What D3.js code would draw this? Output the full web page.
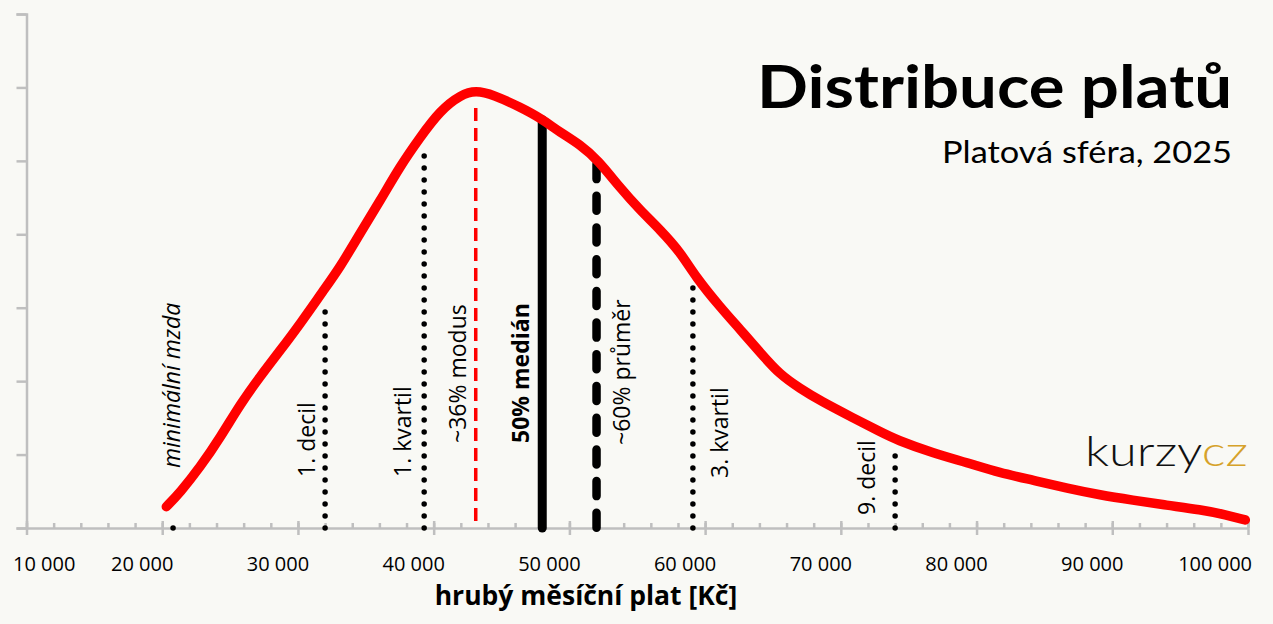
<!DOCTYPE html>
<html lang="cs">
<head>
    <meta charset="UTF-8">
    <title>Distribuce platů</title>
    <script src="https://d3js.org/d3.v7.min.js"></script>
    <style>
        body { margin: 0; background: #f9f9f5; }
        svg { display: block; }
        .axis path, .axis line { stroke: #bfbfbf; stroke-width: 2.5; }
        .tick-label { font: 20px "Open Sans", sans-serif; fill: #000; }
        .marker-label { font: 23px "Open Sans", sans-serif; fill: #000; }
    </style>
</head>
<body>
<svg id="chart"></svg>
<script>
// salary distribution curve
const salary = [20300, 21300, 22800, 24300, 25800, 27200, 28700, 30200, 31900, 33100,
    34600, 36100, 37500, 39000, 40500, 42000, 43100, 44400, 46400, 47900,
    49300, 50800, 52100, 53700, 55200, 56700, 58200, 59300, 61100, 62600,
    64100, 65500, 67000, 68500, 70900, 72900, 74100, 76800, 79300, 81700,
    84200, 86700, 89100, 91500, 94000, 96500, 98400, 99800];
const density = [0.29, 0.48, 0.83, 1.24, 1.70, 2.06, 2.42, 2.79, 3.24, 3.55,
    4.02, 4.47, 4.92, 5.32, 5.69, 5.90, 5.96, 5.90, 5.73, 5.58,
    5.39, 5.22, 5.01, 4.64, 4.33, 4.06, 3.75, 3.42, 3.01, 2.70,
    2.38, 2.09, 1.90, 1.73, 1.50, 1.31, 1.20, 1.02, 0.89, 0.75,
    0.65, 0.54, 0.45, 0.38, 0.31, 0.25, 0.18, 0.11];

// vertical markers
const markerLabels = ["minimální mzda", "1. decil", "1. kvartil", "~36% modus",
    "50% medián", "~60% průměr", "3. kvartil", "9. decil"];
const markerSalary = [20800, 32000, 39300, 43100, 48000, 52000, 59100, 74000];
const markerTop = [0.16, 3.08, 5.19, 5.72, 5.56, 5.01, 3.40, 1.13];

const xTicks = [10000, 20000, 30000, 40000, 50000, 60000, 70000, 80000, 90000, 100000];
const xMinorTicks = d3.range(10000, 100001, 2000);
const yTicks = [0, 1, 2, 3, 4, 5, 6, 7];

const width = 1273, height = 624;
const svg = d3.select("#chart").attr("width", width).attr("height", height);

const x = d3.scaleLinear().domain([10000, 100000]).range([26.5, 1248]);
const y = d3.scaleLinear().domain([0, 7]).range([528, 14]);

// marker styles, by marker index
const styles = [
    { kind: "dot", dx: 7, ly: 468, italic: true },
    { kind: "dot", dx: -10, ly: 477 },
    { kind: "dot", dx: -13, ly: 477 },
    { kind: "modus", dx: -10, ly: 443 },
    { kind: "solid", dx: -13, ly: 443, bold: true },
    { kind: "long", dx: 33, ly: 445 },
    { kind: "dot", dx: 35, ly: 478 },
    { kind: "dot", dx: -20, ly: 515 }
];

// y axis (no labels)
svg.append("g")
    .attr("class", "axis")
    .attr("transform", `translate(${x(10000)},0)`)
    .call(d3.axisLeft(y).tickValues(yTicks).tickSize(10).tickSizeOuter(10).tickFormat(""));

// minor x ticks, pointing up
svg.append("g")
    .attr("class", "axis")
    .attr("transform", `translate(0,${y(0)})`)
    .call(d3.axisBottom(x).tickValues(xMinorTicks).tickSize(-5).tickSizeOuter(0).tickFormat(""))
    .call(g => g.select(".domain").remove());

// major x ticks, crossing the axis
const xAxis = svg.append("g")
    .attr("class", "axis")
    .attr("transform", `translate(0,${y(0)})`)
    .call(d3.axisBottom(x).tickValues(xTicks).tickSize(7).tickSizeOuter(0).tickFormat(""));
xAxis.selectAll(".tick line").attr("y1", -7);

// x tick labels (sit a bit left of their ticks, like in the original)
const fmt = v => d3.format(",")(v).replace(/,/g, " ");
svg.append("g").selectAll("text")
    .data(xTicks)
    .join("text")
    .attr("class", "tick-label")
    .attr("x", (d, i) => i === 0 ? 13 : i === xTicks.length - 1 ? 1252 : x(d) - 20)
    .attr("y", 571)
    .attr("text-anchor", (d, i) => i === 0 ? "start" : i === xTicks.length - 1 ? "end" : "middle")
    .text(fmt);

svg.append("text")
    .attr("x", 586)
    .attr("y", 605)
    .attr("text-anchor", "middle")
    .style("font", "bold 26.5px 'Open Sans', sans-serif")
    .text("hrubý měsíční plat [Kč]");

// marker lines
markerSalary.forEach((v, i) => {
    const s = styles[i];
    const line = svg.append("line")
        .attr("x1", x(v)).attr("x2", x(v))
        .attr("fill", "none");
    if (s.kind === "dot") {
        line.attr("y1", y(0)).attr("y2", y(markerTop[i]))
            .attr("stroke", "#000").attr("stroke-width", 5.5)
            .attr("stroke-linecap", "round").attr("stroke-dasharray", "0 12");
    } else if (s.kind === "modus") {
        line.attr("y1", y(markerTop[i])).attr("y2", y(0))
            .attr("stroke", "#ff0000").attr("stroke-width", 3.5)
            .attr("stroke-dasharray", "13 7");
    } else if (s.kind === "solid") {
        line.attr("y1", y(markerTop[i])).attr("y2", y(0))
            .attr("stroke", "#000").attr("stroke-width", 9)
            .attr("stroke-linecap", "round");
    } else {
        line.attr("y1", y(markerTop[i]) + 4).attr("y2", y(0))
            .attr("stroke", "#000").attr("stroke-width", 8.5)
            .attr("stroke-linecap", "round").attr("stroke-dasharray", "15 16.7");
    }
});

// distribution curve
const curve = d3.line()
    .x((d, i) => x(salary[i]))
    .y(d => y(d))
    .curve(d3.curveBasis);

svg.append("path")
    .datum(density)
    .attr("fill", "none")
    .attr("stroke", "#ff0000")
    .attr("stroke-width", 9.5)
    .attr("stroke-linecap", "round")
    .attr("stroke-linejoin", "round")
    .attr("d", curve);

// marker labels, rotated
markerLabels.forEach((t, i) => {
    const s = styles[i];
    svg.append("text")
        .attr("class", "marker-label")
        .attr("transform", `translate(${x(markerSalary[i]) + s.dx},${s.ly}) rotate(-90)`)
        .style("font-style", s.italic ? "italic" : null)
        .style("font-weight", s.bold ? "bold" : null)
        .text(t);
});

// title block
svg.append("text")
    .attr("x", 1232).attr("y", 108)
    .attr("text-anchor", "end")
    .attr("textLength", 475)
    .attr("lengthAdjust", "spacingAndGlyphs")
    .style("font", "bold 60px Lato, sans-serif")
    .text("Distribuce platů");

svg.append("text")
    .attr("x", 1232).attr("y", 163)
    .attr("text-anchor", "end")
    .attr("textLength", 290)
    .attr("lengthAdjust", "spacingAndGlyphs")
    .style("font", "31px Lato, sans-serif")
    .text("Platová sféra, 2025");

// kurzy.cz logo
const logo = svg.append("text")
    .attr("x", 1085).attr("y", 466)
    .attr("textLength", 163)
    .attr("lengthAdjust", "spacingAndGlyphs")
    .style("font", "300 42px Lato, sans-serif");
logo.append("tspan").attr("fill", "#111").text("kurzy");
logo.append("tspan").attr("fill", "#d6a22a").text("cz");
</script>
</body>
</html>
